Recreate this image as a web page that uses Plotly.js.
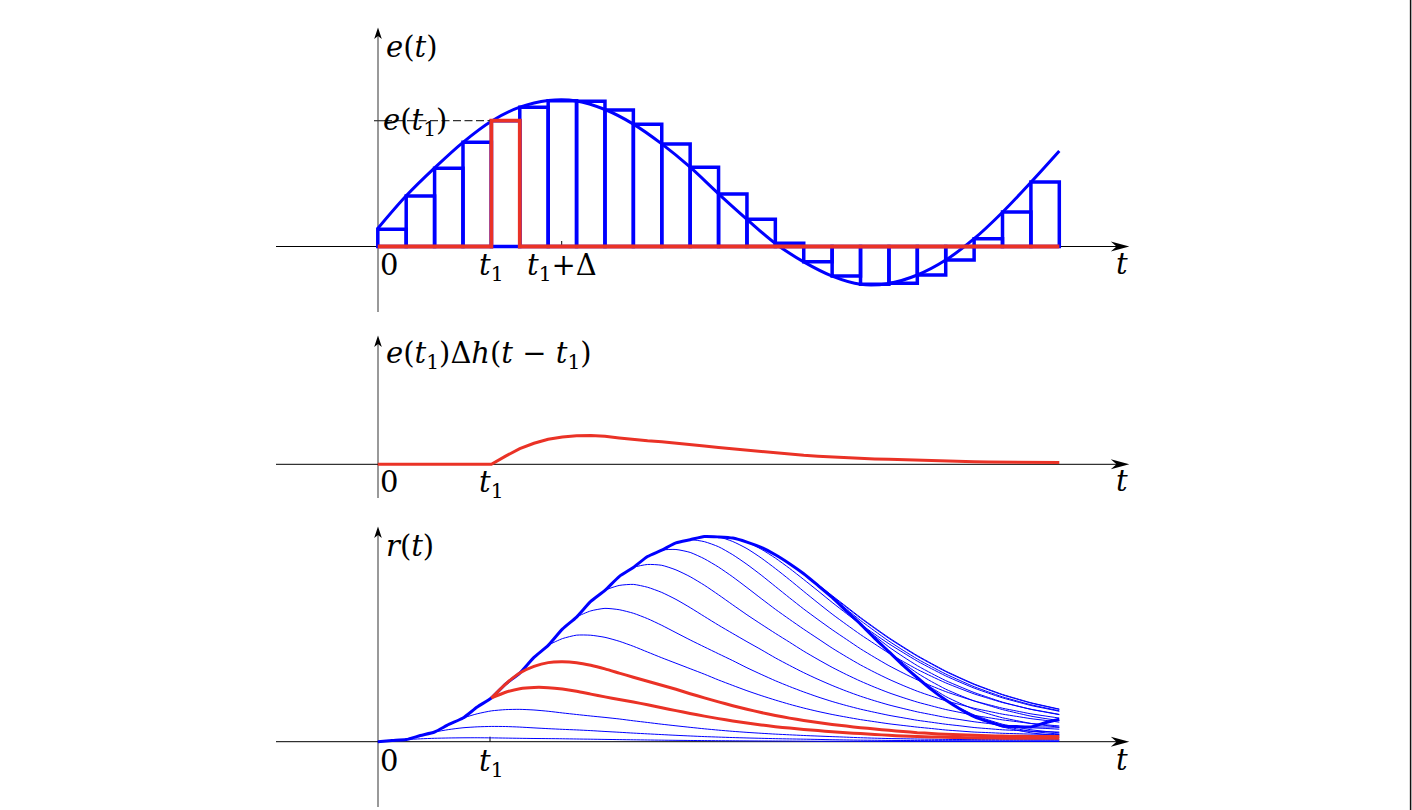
<!DOCTYPE html>
<html><head><meta charset="utf-8">
<script src="https://cdn.plot.ly/plotly-3.0.1.min.js"></script>
<style>html,body{margin:0;padding:0;background:#fff}#chart{width:1412px;height:810px}</style>
</head><body><div id="chart"></div>
<script>
// ---------------- DATA ----------------
// sampled input e(t_k): bar heights at t = 0, Δ, 2Δ, ..., 23Δ
const eBar = [17.2, 50.5, 78.2, 104.2, 125.8, 139.2, 145.8, 145.2, 136.5, 122.2, 102.5, 79.2,
              52.5, 27.2, 3.2, -15.2, -29.5, -37.8, -36.8, -28.5, -13.5, 7.8, 34.5, 64.5];
// continuous input e(t) at t = 0, Δ, ..., 24Δ
const eCurve = [18.0, 50.7, 78.6, 104.2, 125.3, 139.3, 146.0, 145.6, 137.0, 122.4, 102.6, 79.3,
                52.7, 27.2, 3.0, -15.4, -29.6, -37.8, -36.9, -28.5, -13.6, 7.8, 34.3, 64.2, 95.5];
// e(t1)Δh(t - t1), sampled every Δ/2 starting at t1
const hResp = [0, 8.2, 15.6, 21.0, 25.0, 27.2, 28.5, 28.8, 28.0, 26.4, 24.8, 23.5, 22.6, 21.4,
               19.8, 18.3, 16.7, 15.3, 13.9, 12.5, 11.2, 10.0, 9.0, 8.1, 7.3, 6.6, 5.9, 5.4,
               5.0, 4.5, 3.9, 3.4, 3.0, 2.8, 2.5, 2.3, 2.1, 2.0, 1.9, 1.8, 1.7];
const t1Index = 4;            // t1 = 4Δ
const tEnd = 24;              // last time (in Δ)
const redPartials = [3, 4];   // partial sums drawn in red
const tickLabelZero = '0';
const tickLabelT1 = '<i>t</i><sub>1</sub>';
const tickLabelT1D = '<i>t</i><sub>1</sub>+Δ';
const axisLabelT = '<i>t</i>';
const labelTop = '<i>e</i>(<i>t</i>)';
const labelEt1 = '<i>e</i>(<i>t</i><sub>1</sub>)';
const labelMid = '<i>e</i>(<i>t</i><sub>1</sub>)Δ<i>h</i>(<i>t</i> − <i>t</i><sub>1</sub>)';
const labelBot = '<i>r</i>(<i>t</i>)';

// ---------------- GEOMETRY ----------------
const W = 1412, H = 810;
const X0 = 377.8, DX = 28.396;               // pixel of t=0, pixels per Δ
const base = {top: 246.5, mid: 464.3, bot: 741.7};
const px = x => x / W, py = y => 1 - y / H;
const BLUE = '#0000ff', RED = 'rgb(234,50,38)';

// ---------------- TRACES ----------------
const traces = [];
const idx = n => Array.from({length: n}, (_, i) => i);

// top: bars
traces.push({type: 'bar', x: eBar.map((_, i) => i + 0.5), y: eBar, width: eBar.map(() => 1),
  marker: {color: 'rgba(0,0,0,0)', line: {color: BLUE, width: 3.5}}, xaxis: 'x', yaxis: 'y', hoverinfo: 'skip'});
// top: continuous e(t)
traces.push({type: 'scatter', mode: 'lines', x: idx(eCurve.length), y: eCurve,
  line: {color: BLUE, width: 3, shape: 'spline', smoothing: 1}, xaxis: 'x', yaxis: 'y'});
// top: red pulse at t1
const e1 = eBar[t1Index];
traces.push({type: 'scatter', mode: 'lines', x: [0, t1Index, t1Index, t1Index + 1, t1Index + 1, tEnd],
  y: [0, 0, e1, e1, 0, 0], line: {color: RED, width: 3.8}, xaxis: 'x', yaxis: 'y'});

// middle: e(t1)Δh(t-t1)
traces.push({type: 'scatter', mode: 'lines',
  x: [0, t1Index].concat(hResp.map((_, j) => t1Index + j / 2)),
  y: [0, 0].concat(hResp),
  line: {color: RED, width: 3}, xaxis: 'x', yaxis: 'y2'});

// bottom: partial sums of the pulse responses
function partial(k, j) {            // value at t = j/2 (in Δ)
  let s = 0;
  for (let i = 0; i <= k; i++) {
    const d = j - 2 * i;
    if (d < 0) continue;
    s += eBar[i] / e1 * hResp[Math.min(d, hResp.length - 1)];
  }
  return s;
}
function partialTrace(k, from, color, width) {
  const xs = [], ys = [];
  for (let j = 2 * from; j <= 2 * tEnd; j++) { xs.push(j / 2); ys.push(partial(k, j)); }
  return {type: 'scatter', mode: 'lines', x: xs, y: ys,
    line: {color: color, width: width, shape: 'spline', smoothing: 0.6}, xaxis: 'x', yaxis: 'y3'};
}
for (let k = 0; k < eBar.length - 1; k++) {
  if (redPartials.includes(k)) continue;
  traces.push(partialTrace(k, k, BLUE, 1));
}
traces.push(partialTrace(eBar.length - 1, 0, BLUE, 3));
redPartials.forEach(k => traces.push(partialTrace(k, t1Index, RED, 3)));

// ---------------- SHAPES ----------------
const shapes = [];
function line(x0, y0, x1, y1, color, width, dash, layer) {
  shapes.push({type: 'line', xref: 'paper', yref: 'paper', x0: px(x0), y0: py(y0), x1: px(x1), y1: py(y1),
    layer: layer || 'below', line: {color: color, width: width, dash: dash || 'solid'}});
}
function path(pts) {
  shapes.push({type: 'path', xref: 'paper', yref: 'paper', layer: 'above',
    path: pts.map((p, i) => (i ? 'L' : 'M') + px(p[0]) + ',' + py(p[1])).join(' ') + ' Z',
    fillcolor: '#000', line: {width: 0}});
}
function hArrow(yb) {
  line(276, yb, 1117, yb, '#000', 1);
  path([[1129.3, yb], [1110.8, yb - 5], [1116.5, yb], [1110.8, yb + 5]]);
}
function vArrow(yTip, yBottom) {
  line(378, yBottom, 378, yTip + 8, '#555', 1.2);
  path([[378, yTip], [381.8, yTip + 11.5], [378, yTip + 8.5], [374.2, yTip + 11.5]]);
}
vArrow(27.5, 312); hArrow(base.top);
vArrow(335.5, 498); hArrow(base.mid);
vArrow(526.5, 807); hArrow(base.bot);
// ticks
line(561.7, base.top - 5.5, 561.7, base.top, '#000', 1);
line(490, base.bot - 5, 490, base.bot, '#000', 1);
// dashed guide e(t1)
line(374, 120.7, 384, 120.7, '#333', 1.2, 'solid', 'above');
line(384, 120.7, 490, 120.7, '#333', 1.2, '8px,3.5px', 'above');
// right frame line
line(1410.6, 0, 1410.6, 810, '#111', 1.5, 'solid', 'above');

// ---------------- ANNOTATIONS ----------------
const F = {family: 'DejaVu Serif', size: 29, color: '#000'};
const annotations = [];
function label(text, x, y, anchor) {
  annotations.push({text: text, xref: 'paper', yref: 'paper', x: px(x), y: py(y), showarrow: false,
    xanchor: anchor || 'left', yanchor: 'middle', font: F});
}
label(labelTop, 384, 47);
label(labelEt1, 381, 122);
label(tickLabelZero, 378, 265);
label(tickLabelT1, 491, 267, 'center');
label(tickLabelT1D, 562, 267, 'center');
label(axisLabelT, 1122, 264, 'center');
label(labelMid, 384, 355);
label(tickLabelZero, 378, 482);
label(tickLabelT1, 491, 484, 'center');
label(axisLabelT, 1122, 481, 'center');
label(labelBot, 384, 546);
label(tickLabelZero, 378, 761);
label(tickLabelT1, 491, 763, 'center');
label(axisLabelT, 1122, 760, 'center');

// ---------------- LAYOUT ----------------
const yAx = b => ({range: [b - H, b], domain: [0, 1], visible: false, fixedrange: true, anchor: 'x'});
const layout = {
  width: W, height: H, margin: {l: 0, r: 0, t: 0, b: 0}, showlegend: false,
  paper_bgcolor: '#fff', plot_bgcolor: 'rgba(0,0,0,0)', barmode: 'overlay',
  xaxis: {range: [-X0 / DX, (W - X0) / DX], visible: false, fixedrange: true},
  yaxis: yAx(base.top), yaxis2: yAx(base.mid), yaxis3: yAx(base.bot),
  shapes: shapes, annotations: annotations
};
Plotly.newPlot('chart', traces, layout, {displayModeBar: false, staticPlot: true});
</script></body></html>
